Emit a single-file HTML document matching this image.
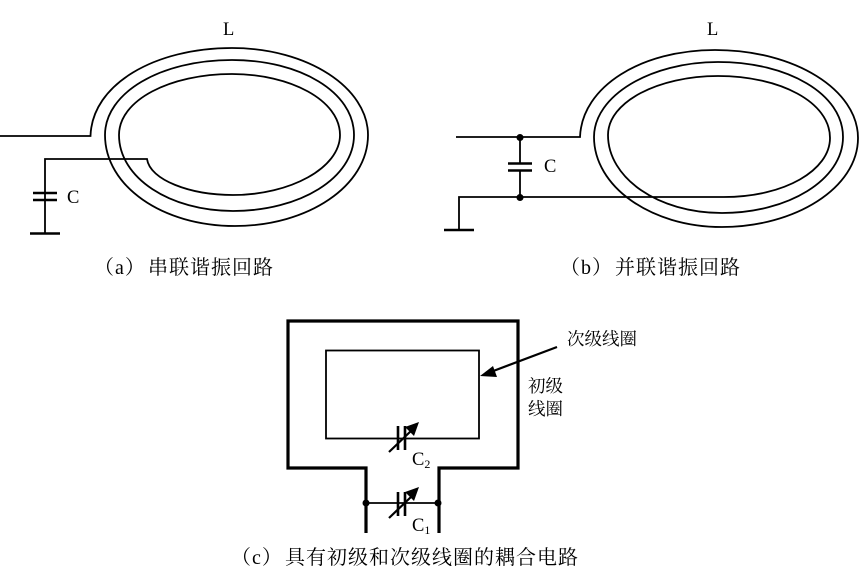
<!DOCTYPE html>
<html><head><meta charset="utf-8">
<style>
html,body{margin:0;padding:0;background:#fff;width:862px;height:584px;overflow:hidden}
svg{display:block}
text{font-family:"Liberation Serif","Noto Serif CJK SC",serif;fill:#000}
.z{font-size:18.500px}
.cap{font-size:20px;letter-spacing:1px}
.lbl{font-size:17.500px}
</style></head>
<body>
<svg width="862" height="584" viewBox="0 0 862 584" xmlns="http://www.w3.org/2000/svg">
<g fill="none" stroke="#000" stroke-width="1.800">
<!-- (a) -->
<path d="M0 136H90.500C92 84 155 48 232 48C308 48 368 88 368 135C368 186 308 226 235 226C162 226 105 186 105 135C105 93 160 60 232 60C300 60 354 92 354 135C354 178 300 211 233 211C170 211 119 178 119 135C119 100 170 74 232 74C290 74 340 100 340 135C340 168 290 195 233 195C190 195 150 180 147 159H45V233"/>
<!-- (b) -->
<path d="M456 137H580C582 86 642 50 715 50C795 50 858 90 858 138C858 188 795 227 722 227C650 227 594 186 594 137C594 96 650 62 718 62C788 62 843 94 843 137C843 180 788 213 722 213C658 213 608 178 608 135C608 102 658 76 718 76C780 76 830 102 830 138C830 170 785 197 724 197H459V230"/>
<path d="M520 137V163M520 170V197"/>
<!-- (c) inner -->
<rect x="326" y="350.500" width="153" height="88"/>
<path d="M366 503H438"/>
</g>
<g fill="none" stroke="#000" stroke-width="2.600">
<path d="M33 193H57M33 200H57M30 233.500H60"/>
<path d="M508 163.500H532M508 170.500H532M444 230H474"/>
<path d="M398 426V450M405 426V450M398 492V516M405 492V516"/>
</g>
<path d="M366 533V468H288V321H518V468H439V533" fill="none" stroke="#000" stroke-width="3.200"/>
<g stroke="#000" stroke-width="2.200" fill="none">
<path d="M389 452L412 430M389 518L412 496M557 347L488 373"/>
</g>
<g fill="#000">
<path d="M419 422L414 436L405 427Z"/>
<path d="M419 487L414 501L405 492Z"/>
<path d="M480 376L493 366L497 377Z"/>
<circle cx="520" cy="137.500" r="3.500"/>
<circle cx="520" cy="197.500" r="3.500"/>
<circle cx="366" cy="503" r="3.500"/>
<circle cx="438" cy="503" r="3.500"/>
</g>
<text class="z" x="223" y="35">L</text>
<text class="z" x="707" y="35">L</text>
<text class="z" x="67" y="203">C</text>
<text class="z" x="544" y="172">C</text>
<text class="z" x="412" y="465">C<tspan font-size="12" dy="3">2</tspan></text>
<text class="z" x="412" y="531">C<tspan font-size="12" dy="3">1</tspan></text>
<text class="cap" x="94" y="274">（a）</text>
<text class="cap" x="148" y="274">串联谐振回路</text>
<text class="cap" x="560" y="274">（b）</text>
<text class="cap" x="615" y="274">并联谐振回路</text>
<text class="cap" x="231" y="564">（c）</text>
<text class="cap" x="285" y="564">具有初级和次级线圈的耦合电路</text>
<text class="lbl" x="567" y="345">次级线圈</text>
<text class="lbl" x="528" y="392">初级</text>
<text class="lbl" x="528" y="415">线圈</text>
</svg>
</body></html>
